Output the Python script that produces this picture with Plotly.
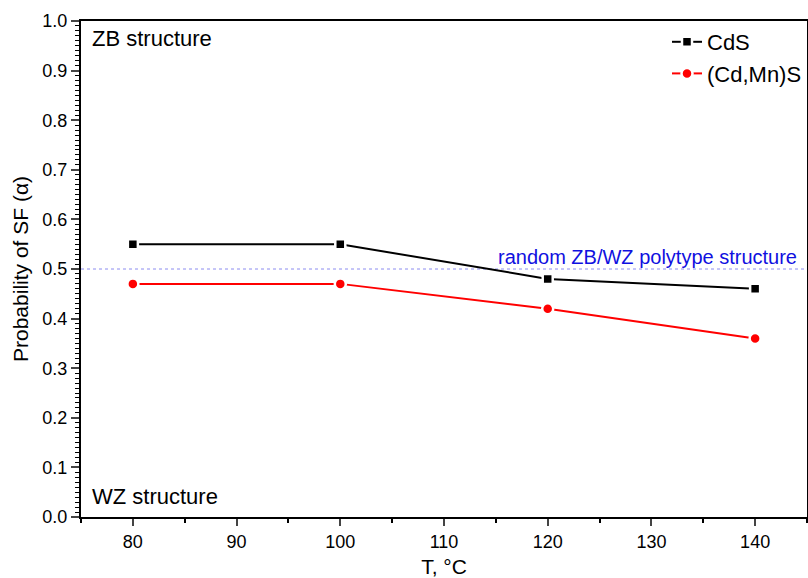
import plotly.graph_objects as go

temps = [80, 100, 120, 140]
cds = [0.55, 0.55, 0.48, 0.46]
cdmns = [0.47, 0.47, 0.42, 0.36]
random_level = 0.5

FONT = "Liberation Sans, Arial, sans-serif"

fig = go.Figure()
fig.add_trace(go.Scatter(
    x=temps, y=cds, name="CdS", mode="lines+markers",
    line=dict(color="black", width=2),
    marker=dict(symbol="square", size=10, color="black", line=dict(color="white", width=2.5)),
))
fig.add_trace(go.Scatter(
    x=temps, y=cdmns, name="(Cd,Mn)S", mode="lines+markers",
    line=dict(color="#ff0000", width=2),
    marker=dict(symbol="circle", size=11, color="#ff0000", line=dict(color="white", width=2.5)),
))

fig.add_shape(type="line", xref="paper", x0=0, x1=1, yref="y", y0=random_level, y1=random_level,
              line=dict(color="#8c8cf0", width=1, dash="dot"), layer="below")

fig.add_annotation(text="random ZB/WZ polytype structure", xref="paper", x=(799 - 81) / 726,
                   xanchor="right", yref="y", y=random_level, yanchor="bottom", yshift=-1,
                   showarrow=False, font=dict(family=FONT, size=20, color="#1010e0"))
fig.add_annotation(text="ZB structure", xref="paper", x=(90 - 81) / 726, xanchor="left",
                   yref="paper", y=(517 - 39) / 496, yanchor="middle",
                   showarrow=False, font=dict(family=FONT, size=22, color="black"))
fig.add_annotation(text="WZ structure", xref="paper", x=(90 - 81) / 726, xanchor="left",
                   yref="paper", y=(517 - 496) / 496, yanchor="middle",
                   showarrow=False, font=dict(family=FONT, size=22, color="black"))

fig.update_layout(
    width=808, height=578,
    margin=dict(l=81, r=1, t=21, b=61, autoexpand=False),
    paper_bgcolor="white", plot_bgcolor="white",
    font=dict(family=FONT, size=18, color="black"),
    showlegend=True,
    legend=dict(x=1, xanchor="right", y=1, yanchor="top", bgcolor="rgba(0,0,0,0)",
                font=dict(family=FONT, size=22), itemwidth=30, tracegroupgap=0),
    xaxis=dict(range=[75, 145], dtick=10, tick0=80, ticks="outside", ticklen=7, tickwidth=2,
               showline=True, linewidth=2, linecolor="black", mirror=True, showgrid=False,
               zeroline=False, tickfont=dict(size=18), automargin=False,
               minor=dict(dtick=5, tick0=75, ticks="outside", ticklen=4, tickwidth=2, tickcolor="black"),
               title=dict(text="T, °C", font=dict(size=21), standoff=10)),
    yaxis=dict(range=[0, 1.0], dtick=0.1, tickformat=".1f", ticks="outside", ticklen=8, tickwidth=2,
               showline=True, linewidth=2, linecolor="black", mirror=True, showgrid=False,
               zeroline=False, tickfont=dict(size=18), automargin=False,
               minor=dict(dtick=0.01, ticks="outside", ticklen=4, tickwidth=1, tickcolor="black"),
               title=dict(text="Probability of SF (α)", font=dict(size=21), standoff=8)),
)

fig.write_html("out.html", config={"displayModeBar": False},
               post_script="document.body.style.margin='0';document.body.style.overflow='hidden';")
